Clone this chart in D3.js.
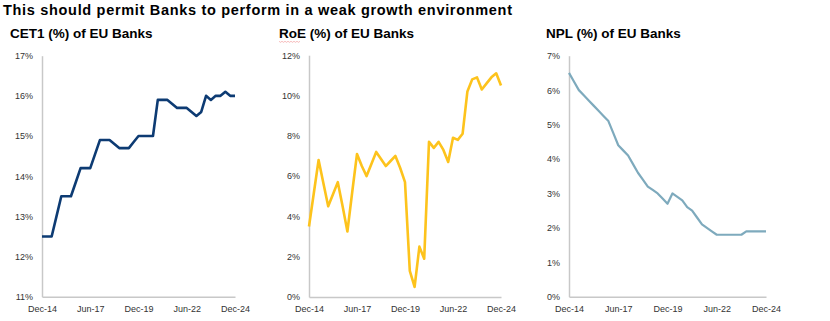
<!DOCTYPE html>
<html>
<head>
<meta charset="utf-8">
<script src="https://cdn.jsdelivr.net/npm/d3@7/dist/d3.min.js"></script>
<style>
  html, body { margin: 0; padding: 0; background: #ffffff; }
  svg { display: block; font-family: "Liberation Sans", Arial, sans-serif; }
</style>
</head>
<body>
<svg id="chart" width="830" height="321"></svg>
<script>
// Quarter-end labels, Dec-14 through Dec-24 (41 quarters)
const firstQuarter = new Date(2014, 11, 1);
const quarters = d3.range(41)
  .map(i => d3.timeFormat("%b-%y")(d3.timeMonth.offset(firstQuarter, 3 * i)));

const xTickLabels = ["Dec-14", "Jun-17", "Dec-19", "Jun-22", "Dec-24"];

// CET1 ratio (%) of EU banks
const cet1 = [
  12.5, 12.5, 12.5, 13.0, 13.5, 13.5, 13.5, 13.85, 14.2, 14.2,
  14.2, 14.55, 14.9, 14.9, 14.9, 14.8, 14.7, 14.7, 14.7, 14.85,
  15.0, 15.0, 15.0, 15.0, 15.9, 15.9, 15.9, 15.8, 15.7, 15.7,
  15.7, 15.6, 15.5, 15.6, 16.0, 15.9, 16.0, 16.0, 16.1, 16.0,
  16.0
];

// Return on equity (%) of EU banks
const roe = [
  3.5, 5.15, 6.8, 5.65, 4.5, 5.1, 5.7, 4.5, 3.25, 5.2,
  7.1, 6.5, 6.0, 6.6, 7.2, 6.85, 6.5, 6.75, 7.0, 6.4,
  5.7, 1.3, 0.5, 2.5, 1.9, 7.7, 7.4, 7.7, 7.3, 6.7,
  7.9, 7.8, 8.1, 10.2, 10.8, 10.9, 10.3, 10.6, 10.9, 11.1,
  10.5
];

// Non-performing loan ratio (%) of EU banks
const npl = [
  6.5, 6.25, 6.0, 5.85, 5.7, 5.55, 5.4, 5.25, 5.1, 4.75,
  4.4, 4.25, 4.1, 3.85, 3.6, 3.4, 3.2, 3.1, 3.0, 2.85,
  2.7, 3.0, 2.9, 2.8, 2.6, 2.5, 2.3, 2.1, 2.0, 1.9,
  1.8, 1.8, 1.8, 1.8, 1.8, 1.8, 1.9, 1.9, 1.9, 1.9,
  1.9
];

const cet1Ticks = [11, 12, 13, 14, 15, 16, 17];
const roeTicks = [0, 2, 4, 6, 8, 10, 12];
const nplTicks = [0, 1, 2, 3, 4, 5, 6, 7];

const headline = "This should permit Banks to perform in a weak growth environment";

const svg = d3.select("#chart");

svg.append("text")
  .attr("x", 3)
  .attr("y", 15)
  .attr("font-size", 14.5)
  .attr("font-weight", "bold")
  .attr("fill", "#000")
  .attr("textLength", 509)
  .attr("lengthAdjust", "spacing")
  .text(headline);

const panels = [
  { title: "CET1 (%) of EU Banks", titleX: 10, values: cet1, ticks: cet1Ticks,
    domain: [11, 17], x0: 42, x1: 235, top: 55.7, bottom: 296.7,
    color: "#0d3b73", width: 2.6 },
  { title: "RoE (%) of EU Banks", titleX: 279, values: roe, ticks: roeTicks,
    domain: [0, 12], x0: 309, x1: 501, top: 55.2, bottom: 297,
    color: "#fdc31c", width: 2.6, squiggle: [279, 301] },
  { title: "NPL (%) of EU Banks", titleX: 546, values: npl, ticks: nplTicks,
    domain: [0, 7], x0: 569, x1: 766, top: 55.7, bottom: 296.7,
    color: "#7eaabd", width: 2.2 }
];

panels.forEach(p => {
  const x = d3.scalePoint().domain(quarters).range([p.x0, p.x1]);
  const y = d3.scaleLinear().domain(p.domain).range([p.bottom, p.top]);

  svg.append("text")
    .attr("x", p.titleX)
    .attr("y", 38)
    .attr("font-size", 13.5)
    .attr("font-weight", "bold")
    .attr("fill", "#000")
    .text(p.title);

  // faint red wavy underline beneath the abbreviation in the title
  if (p.squiggle) {
    const [a, b] = p.squiggle;
    const pts = d3.range(a, b + 0.1, 1.5).map((v, i) => [v, 41.5 + (i % 2 ? 0.8 : -0.2)]);
    svg.append("path")
      .attr("d", d3.line()(pts))
      .attr("fill", "none")
      .attr("stroke", "#f08a8a")
      .attr("stroke-opacity", 0.7)
      .attr("stroke-width", 0.8);
  }

  const yAxis = svg.append("g")
    .attr("transform", `translate(${p.x0},0)`)
    .call(d3.axisLeft(y).tickValues(p.ticks).tickSize(0).tickPadding(9)
      .tickFormat(d => d + "%"));

  const xAxis = svg.append("g")
    .attr("transform", `translate(0,${p.bottom})`)
    .call(d3.axisBottom(x).tickValues(xTickLabels).tickSize(0).tickPadding(9));

  [yAxis, xAxis].forEach(g => {
    g.select(".domain").attr("stroke", "#c8c8c8").attr("stroke-width", 1.5);
    g.selectAll("text")
      .attr("font-family", "\"Liberation Sans\", Arial, sans-serif")
      .attr("font-size", 9)
      .attr("fill", "#333");
  });

  const line = d3.line()
    .x((d, i) => x(quarters[i]))
    .y(d => y(d));

  svg.append("path")
    .datum(p.values)
    .attr("fill", "none")
    .attr("stroke", p.color)
    .attr("stroke-width", p.width)
    .attr("stroke-linejoin", "round")
    .attr("d", line);
});
</script>
</body>
</html>
